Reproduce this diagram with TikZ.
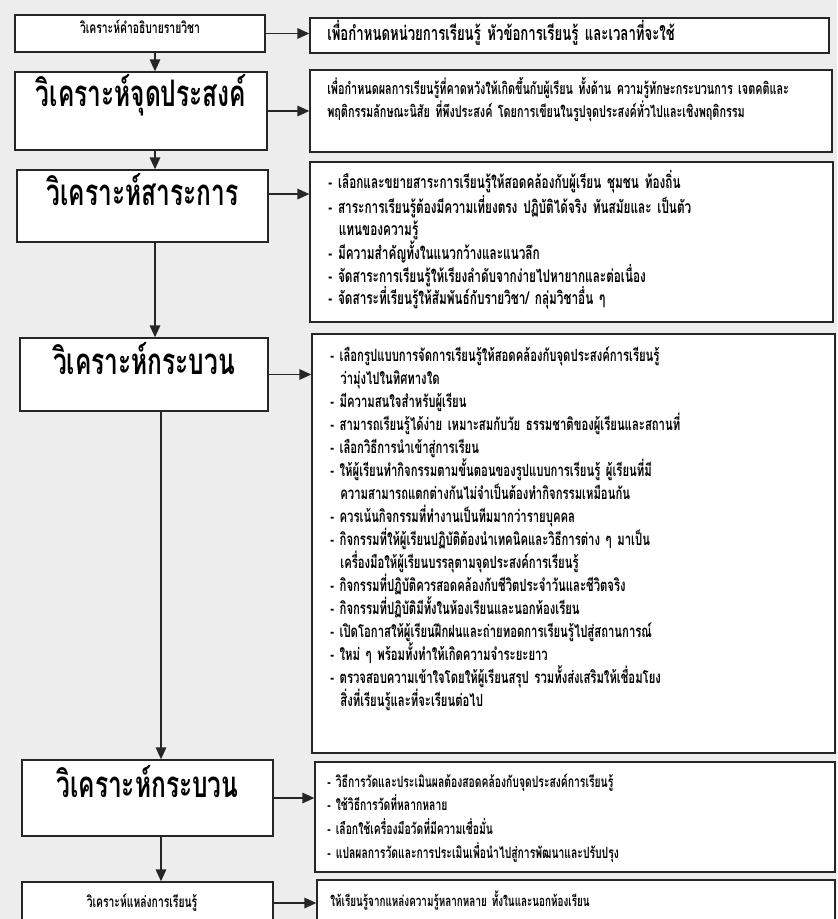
\documentclass[tikz,border=0pt]{standalone}
\usepackage{fontspec}
\newfontfamily\thaifont[Script=Thai,FakeStretch=0.67]{Loma}
\usetikzlibrary{arrows.meta,fit}

\tikzset{
  box/.style={draw=black!85, line width=1pt, fill=white, inner sep=0pt},
  titolo/.style={font=\thaifont\bfseries\fontsize{26}{30}\selectfont},
  piccolo/.style={font=\thaifont\bfseries\fontsize{11}{14}\selectfont},
  testo/.style={anchor=base west, align=left, inner sep=0pt, text width=13cm,
    font=\thaifont\bfseries\fontsize{12}{16.4}\selectfont},
  freccia/.style={->, line width=1.1pt, draw=black!85},
}

\begin{document}
\begin{tikzpicture}[x=0.025cm, y=-0.025cm, >={Triangle[length=8.5pt,width=7.5pt]}]
        \clip (0,0) rectangle (837,919);
        \fill[black!7] (0,0) rectangle (837,919);
        % Riquadri a sinistra
        \node[box, piccolo, fit={(15,15) (265,52)}] (A) {วิเคราะห์คำอธิบายรายวิชา};
        \node[box, titolo, fit={(15,72) (267,150)}] (B) {วิเคราะห์จุดประสงค์};
        \node[box, titolo, fit={(17,170) (268,242)}] (C) {วิเคราะห์สาระการ};
        \node[box, titolo, fit={(20,338) (268,411)}] (D) {วิเคราะห์กระบวน};
        \node[box, titolo, fit={(22,760) (273,836)}] (E) {วิเคราะห์กระบวน};
        \node[box, fit={(22,882) (273,935)}] (F) {};
        \node[piccolo] (Ft) at (142,903) {วิเคราะห์แหล่งการเรียนรู้};
        % Riquadri a destra
        \node[box, fit={(310,18) (829,53)}] (R1) {};
        \node[box, fit={(310,70) (832,152)}] (R2) {};
        \node[box, fit={(310,162) (833,322)}] (R3) {};
        \node[box, fit={(312,334) (835,753)}] (R4) {};
        \node[box, fit={(315,762) (835,872)}] (R5) {};
        \node[box, fit={(317,880) (835,935)}] (R6) {};
        % Testi
        \node[testo, font=\thaifont\bfseries\fontsize{14}{16}\selectfont] (T1) at (327,41) {เพื่อกำหนดหน่วยการเรียนรู้ หัวข้อการเรียนรู้ และเวลาที่จะใช้};
        \node[testo, font=\thaifont\bfseries\fontsize{11.5}{15.8}\selectfont] (T2) at (327,95) {เพื่อกำหนดผลการเรียนรู้ที่คาดหวังให้เกิดขึ้นกับผู้เรียน ทั้งด้าน ความรู้ทักษะกระบวนการ เจตคติและ\\
          พฤติกรรมลักษณะนิสัย ที่พึงประสงค์ โดยการเขียนในรูปจุดประสงค์ทั่วไปและเชิงพฤติกรรม};
        \node[testo, font=\thaifont\bfseries\fontsize{12.5}{16}\selectfont] (T3) at (328,189) {- เลือกและขยายสาระการเรียนรู้ให้สอดคล้องกับผู้เรียน ชุมชน ท้องถิ่น\\
          - สาระการเรียนรู้ต้องมีความเที่ยงตรง ปฏิบัติได้จริง ทันสมัยและ เป็นตัว\\
          \hspace*{0.6em}แทนของความรู้\\
          - มีความสำคัญทั้งในแนวกว้างและแนวลึก\\
          - จัดสาระการเรียนรู้ให้เรียงลำดับจากง่ายไปหายากและต่อเนื่อง\\
          - จัดสาระที่เรียนรู้ให้สัมพันธ์กับรายวิชา/ กลุ่มวิชาอื่น ๆ};
        \node[testo] (T4) at (330,361) {- เลือกรูปแบบการจัดการเรียนรู้ให้สอดคล้องกับจุดประสงค์การเรียนรู้\\
          \hspace*{0.6em}ว่ามุ่งไปในทิศทางใด\\
          - มีความสนใจสำหรับผู้เรียน\\
          - สามารถเรียนรู้ได้ง่าย เหมาะสมกับวัย ธรรมชาติของผู้เรียนและสถานที่\\
          - เลือกวิธีการนำเข้าสู่การเรียน\\
          - ให้ผู้เรียนทำกิจกรรมตามขั้นตอนของรูปแบบการเรียนรู้ ผู้เรียนที่มี\\
          \hspace*{0.6em}ความสามารถแตกต่างกันไม่จำเป็นต้องทำกิจกรรมเหมือนกัน\\
          - ควรเน้นกิจกรรมที่ทำงานเป็นทีมมากว่ารายบุคคล\\
          - กิจกรรมที่ให้ผู้เรียนปฏิบัติต้องนำเทคนิคและวิธีการต่าง ๆ มาเป็น\\
          \hspace*{0.6em}เครื่องมือให้ผู้เรียนบรรลุตามจุดประสงค์การเรียนรู้\\
          - กิจกรรมที่ปฏิบัติควรสอดคล้องกับชีวิตประจำวันและชีวิตจริง\\
          - กิจกรรมที่ปฏิบัติมีทั้งในห้องเรียนและนอกห้องเรียน\\
          - เปิดโอกาสให้ผู้เรียนฝึกฝนและถ่ายทอดการเรียนรู้ไปสู่สถานการณ์\\
          - ใหม่ ๆ พร้อมทั้งทำให้เกิดความจำระยะยาว\\
          - ตรวจสอบความเข้าใจโดยให้ผู้เรียนสรุป รวมทั้งส่งเสริมให้เชื่อมโยง\\
          \hspace*{0.6em}สิ่งที่เรียนรู้และที่จะเรียนต่อไป};
        \node[testo, font=\thaifont\bfseries\fontsize{11}{17}\selectfont] (T5) at (327,787) {- วิธีการวัดและประเมินผลต้องสอดคล้องกับจุดประสงค์การเรียนรู้\\
          - ใช้วิธีการวัดที่หลากหลาย\\
          - เลือกใช้เครื่องมือวัดที่มีความเชื่อมั่น\\
          - แปลผลการวัดและการประเมินเพื่อนำไปสู่การพัฒนาและปรับปรุง};
        \node[testo, font=\thaifont\bfseries\fontsize{10.5}{16}\selectfont] (T6) at (330,906) {ให้เรียนรู้จากแหล่งความรู้หลากหลาย ทั้งในและนอกห้องเรียน};
        % Frecce
        \coordinate (asse) at (155,0);
        \coordinate (asse2) at (161,0);
        \coordinate (c3) at ([yshift=8.5pt]C.east);
        \draw[freccia] (A.south -| asse) -- (B.north -| asse);
        \draw[freccia] (B.south -| asse) -- (C.north -| asse);
        \draw[freccia] (C.south -| asse) -- (D.north -| asse);
        \draw[freccia] (D.south -| asse2) -- (E.north -| asse2);
        \draw[freccia] (E.south -| asse2) -- (F.north -| asse2);
        \draw[freccia] (A.east) -- (A.east -| R1.west);
        \draw[freccia] (B.east) -- (B.east -| R2.west);
        \draw[freccia] (c3) -- (c3 -| R3.west);
        \draw[freccia] (D.east) -- (D.east -| R4.west);
        \draw[freccia] (E.east) -- (E.east -| R5.west);
        \draw[freccia] (Ft.east -| F.east) -- (Ft.east -| R6.west);
\end{tikzpicture}
\end{document}
